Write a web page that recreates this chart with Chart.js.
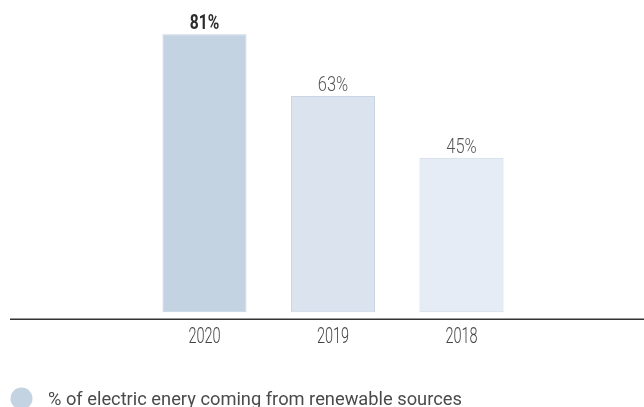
<!DOCTYPE html>
<html>
<head>
<meta charset="utf-8">
<script src="https://cdn.jsdelivr.net/npm/chart.js@4/dist/chart.umd.min.js"></script>
<style>
  html, body { margin: 0; padding: 0; background: #ffffff; }
  #wrap { width: 644px; height: 407px; }
</style>
</head>
<body>
<div id="wrap"><canvas id="c" width="644" height="407"></canvas></div>
<script>
// Categories and values
const years = ['2020', '2019', '2018'];
const shares = [81, 63, 45];
const seriesName = '% of electric enery coming from renewable sources';

// Bar styling, newest year strongest
const barFills = ['#c3d3e2', '#dbe4ee', '#e6ecf5'];
const barEdges = ['#c3d3e2', '#c8d6e5', '#cbd8e7'];

// Draw text squeezed horizontally for a narrow, condensed look
function narrowText(ctx, text, x, y, font, color, squeeze) {
  ctx.save();
  ctx.font = font;
  ctx.fillStyle = color;
  ctx.textAlign = 'center';
  ctx.textBaseline = 'alphabetic';
  ctx.translate(x, y);
  ctx.scale(squeeze, 1);
  ctx.fillText(text, 0, 0);
  ctx.restore();
}

const decorations = {
  id: 'decorations',
  afterDatasetsDraw(chart) {
    const ctx = chart.ctx;
    const area = chart.chartArea;
    const xs = chart.scales.x;

    // baseline rule across the full width
    ctx.save();
    ctx.strokeStyle = '#333333';
    ctx.lineWidth = 1.5;
    ctx.beginPath();
    ctx.moveTo(10, area.bottom + 0.3);
    ctx.lineTo(chart.width, area.bottom + 0.3);
    ctx.stroke();
    ctx.restore();

    // year labels under each bar
    years.forEach((y, i) => {
      narrowText(ctx, y, xs.getPixelForTick(i), area.bottom + 23.5,
        '300 22px Roboto, "Liberation Sans", sans-serif', '#444444', 0.66);
    });

    // value labels above each bar
    const bars = chart.getDatasetMeta(0).data;
    bars.forEach((bar, i) => {
      const v = chart.data.datasets[0].data[i];
      const first = i === 0;
      narrowText(ctx, v + '%', bar.x, bar.y - 5,
        (first ? '700 20px' : '300 20px') + ' Roboto, "Liberation Sans", sans-serif',
        first ? '#2b2b2b' : '#555555', first ? 0.78 : 0.82);
    });

    // legend entry
    ctx.save();
    ctx.fillStyle = barFills[0];
    ctx.beginPath();
    ctx.arc(21.5, 398.5, 11, 0, Math.PI * 2);
    ctx.fill();
    ctx.fillStyle = '#4a4a4a';
    ctx.font = '400 18.3px Roboto, "Liberation Sans", sans-serif';
    ctx.textAlign = 'left';
    ctx.textBaseline = 'alphabetic';
    ctx.fillText(chart.data.datasets[0].label, 48, 405);
    ctx.restore();
  }
};

new Chart(document.getElementById('c'), {
  type: 'bar',
  data: {
    labels: years,
    datasets: [{
      label: seriesName,
      data: shares,
      backgroundColor: barFills,
      borderColor: barEdges,
      borderWidth: 1,
      borderSkipped: false,
      categoryPercentage: 1,
      barPercentage: 0.654
    }]
  },
  options: {
    responsive: false,
    animation: false,
    devicePixelRatio: 1,
    layout: { padding: 0 },
    plugins: {
      legend: { display: false },
      tooltip: { enabled: false }
    },
    scales: {
      x: {
        offset: true,
        grid: { display: false, drawTicks: false },
        border: { display: false },
        ticks: { display: false },
        afterFit(s) { s.height = 88; }
      },
      y: {
        position: 'left',
        min: -2,
        max: 91,
        grid: { display: false, drawTicks: false },
        border: { display: false },
        ticks: { display: false },
        afterFit(s) { s.width = 140.25; }
      },
      yRight: {
        position: 'right',
        min: -2,
        max: 91,
        grid: { display: false, drawTicks: false },
        border: { display: false },
        ticks: { display: false },
        afterFit(s) { s.width = 118.25; }
      }
    }
  },
  plugins: [decorations]
});
</script>
</body>
</html>
